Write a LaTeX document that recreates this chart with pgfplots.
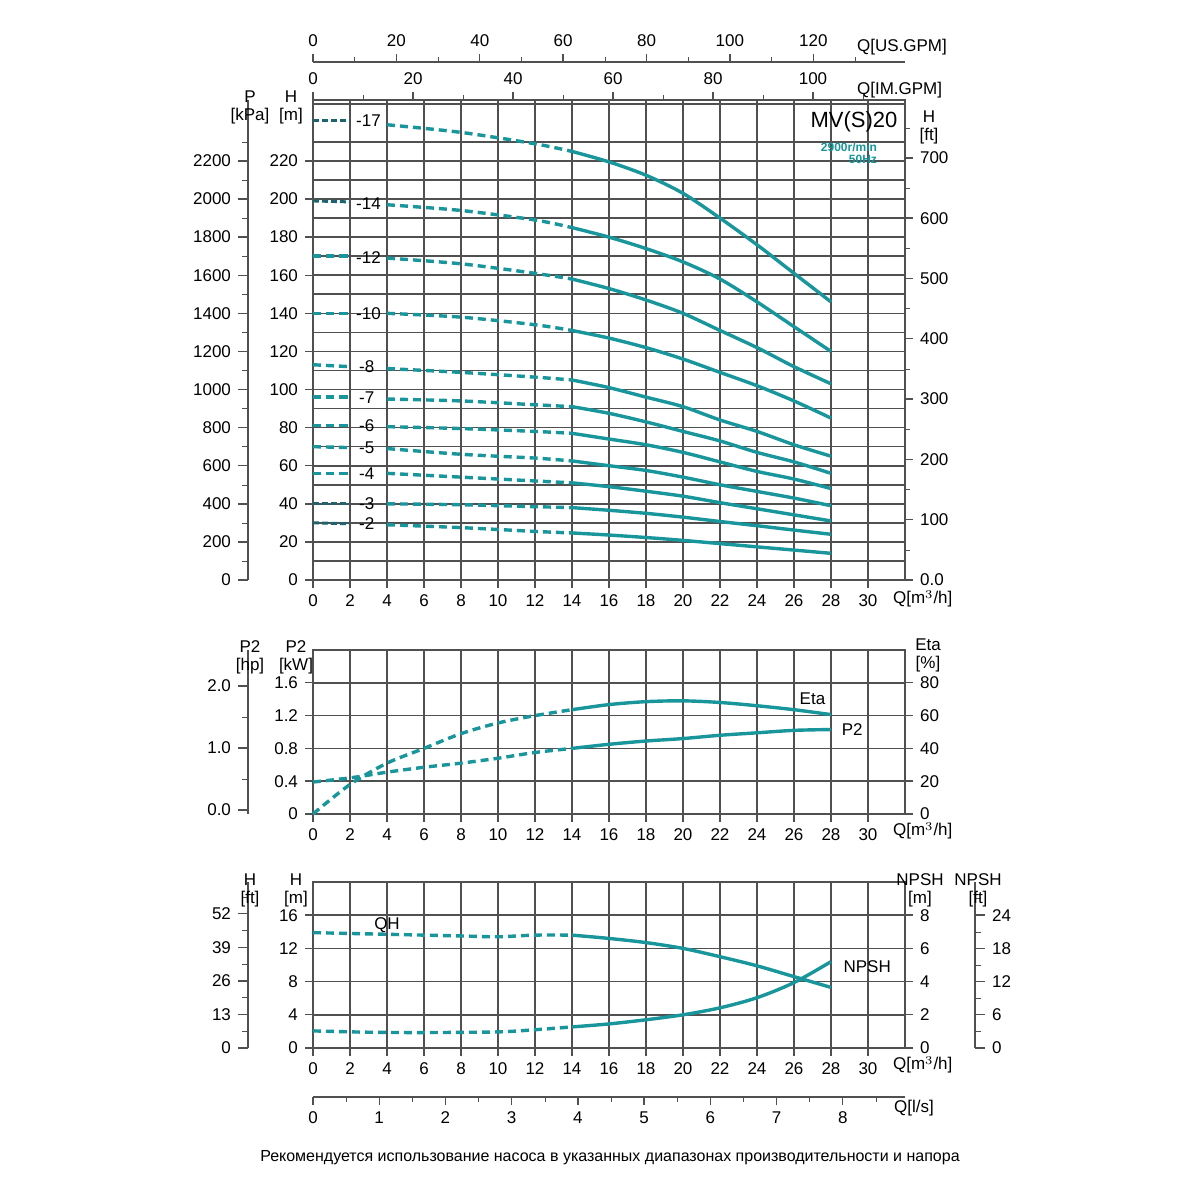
\documentclass[border=0pt]{standalone}
\usepackage{pgfplots}
\pgfplotsset{compat=1.18}
\usepackage{fontspec}
\setmainfont{Liberation Sans}
\definecolor{tl}{RGB}{24,150,155}
\definecolor{td}{RGB}{30,100,110}
\definecolor{gr}{RGB}{80,80,80}
\tikzset{cur/.style={tl, line width=1.7pt, smooth, no markers},
 dsh/.style={cur, dash pattern=on 4pt off 2.5pt},
 dk/.style={td, line width=1.5pt, no markers, dash pattern=on 3pt off 1.5pt}}
\pgfplotsset{
 every axis/.append style={/pgf/number format/1000 sep={}},
 base/.style={scale only axis, width=296pt, xmin=0, xmax=32,
  /pgf/number format/assume math mode=true, tick label style={font=\fontsize{8.5}{10}\selectfont},
  axis line style={gr, line width=0.8pt}, major tick style={gr, line width=0.7pt}, minor tick style={gr},
  tick align=outside, major tick length=4pt, minor tick length=2.5pt,
  grid style={gr, line width=0.8pt}, minor grid style={gr, line width=0.8pt}, clip=false},
 over/.style={base, hide x axis, axis y line*=right, y axis line style={gr}, grid=none},
 lefty/.style={scale only axis, width=10pt, xmin=0, xmax=1, hide x axis, axis y line*=left, /pgf/number format/assume math mode=true,
  tick label style={font=\fontsize{8.5}{10}\selectfont}, axis line style={gr, line width=0.8pt},
  major tick style={gr, line width=0.7pt}, minor tick style={gr}, tick align=outside, major tick length=5pt, minor tick length=3pt},
 topx/.style={scale only axis, width=296pt, height=10pt, ymin=0, ymax=1, hide y axis, axis x line*=top, /pgf/number format/assume math mode=true,
  tick label style={font=\fontsize{8.5}{10}\selectfont}, axis line style={gr, line width=0.8pt},
  major tick style={gr, line width=0.7pt}, minor tick style={gr}, tick align=outside, major tick length=4pt, minor tick length=2.5pt}
}
\begin{document}
\begin{tikzpicture}
\path[fill=white] (0pt,0pt) rectangle (600pt,600pt);
\def\fs{\fontsize{8.5}{10}\selectfont}
% ===== TOP PANEL =====
\begin{axis}[base, at={(156.5pt,310pt)}, anchor=south west, height=240pt, ymin=0, ymax=252,
 xtick={0,2,...,30}, ytick={0,20,...,220}, tick pos=left, grid=major,
 extra y ticks={10,30,...,250}, extra y tick labels={}, extra y tick style={grid=major, major tick length=0pt},
 extra x ticks={32}, extra x tick labels={}, extra x tick style={grid=major, major tick length=0pt}]
\addplot[dk] coordinates {(0,241)(2,241)};
\addplot[dsh] coordinates {(4,239)(8,235)(12,229)(14,225)};
\addplot[cur] coordinates {(14,225)(16,219.5)(18,212.5)(20,203)(22,190)(24,176)(26,161)(28,146)};
\node[font=\fs] at (axis cs:3,241) {-17};
\addplot[dk] coordinates {(0,199)(2,198.5)};
\addplot[dsh] coordinates {(4,197)(8,194)(12,189)(14,185)};
\addplot[cur] coordinates {(14,185)(16,180)(18,174)(20,167)(22,158)(24,146)(26,133)(28,120)};
\node[font=\fs] at (axis cs:3,197.5) {-14};
\addplot[dsh] coordinates {(0,170)(2,170)};
\addplot[dsh] coordinates {(4,169)(8,166)(12,161)(14,158)};
\addplot[cur] coordinates {(14,158)(16,153)(18,147)(20,140)(22,131)(24,122)(26,112)(28,103)};
\node[font=\fs] at (axis cs:3,169.5) {-12};
\addplot[dsh] coordinates {(0,140)(2,140)};
\addplot[dsh] coordinates {(4,140)(8,138)(12,134)(14,131)};
\addplot[cur] coordinates {(14,131)(16,127)(18,122)(20,116)(22,109)(24,102)(26,94)(28,85)};
\node[font=\fs] at (axis cs:3,140) {-10};
\addplot[dsh] coordinates {(0,113)(2,112)};
\addplot[dsh] coordinates {(4,111)(8,109)(12,106.5)(14,105)};
\addplot[cur] coordinates {(14,105)(16,101)(18,96)(20,91)(22,84)(24,78)(26,71)(28,65)};
\node[font=\fs] at (axis cs:2.9,112) {-8};
\addplot[dsh] coordinates {(0,96)(2,96)};
\addplot[dsh] coordinates {(4,95)(8,94)(12,92)(14,91)};
\addplot[cur] coordinates {(14,91)(16,87.5)(18,83)(20,78)(22,73)(24,67)(26,62)(28,56)};
\node[font=\fs] at (axis cs:2.9,95.5) {-7};
\addplot[dsh] coordinates {(0,81)(2,81)};
\addplot[dsh] coordinates {(4,80.5)(8,79.5)(12,78)(14,77)};
\addplot[cur] coordinates {(14,77)(16,74)(18,71)(20,67)(22,62)(24,57)(26,53)(28,48)};
\node[font=\fs] at (axis cs:2.9,81) {-6};
\addplot[dsh] coordinates {(0,70)(2,69.5)};
\addplot[dsh] coordinates {(4,69)(8,66)(12,64)(14,62.5)};
\addplot[cur] coordinates {(14,62.5)(16,60)(18,57.5)(20,54)(22,50)(24,46.5)(26,43)(28,39)};
\node[font=\fs] at (axis cs:2.9,69.5) {-5};
\addplot[dsh] coordinates {(0,56)(2,56)};
\addplot[dsh] coordinates {(4,56)(8,54)(12,52)(14,51)};
\addplot[cur] coordinates {(14,51)(16,49)(18,46.6)(20,44)(22,40.6)(24,37.4)(26,34.2)(28,31)};
\node[font=\fs] at (axis cs:2.9,56) {-4};
\addplot[dk] coordinates {(0,40)(2,40)};
\addplot[dsh] coordinates {(4,40)(8,39.5)(12,38.5)(14,38)};
\addplot[cur] coordinates {(14,38)(16,36.6)(18,35)(20,33)(22,30.7)(24,28.5)(26,26.2)(28,24)};
\node[font=\fs] at (axis cs:2.9,40) {-3};
\addplot[dk] coordinates {(0,30)(2,29.5)};
\addplot[dsh] coordinates {(4,29)(8,27.5)(12,25.5)(14,24.7)};
\addplot[cur] coordinates {(14,24.7)(16,23.6)(18,22.3)(20,20.8)(22,19.1)(24,17.4)(26,15.7)(28,14)};
\node[font=\fs] at (axis cs:2.9,29.5) {-2};
\end{axis}
\begin{axis}[over, at={(156.5pt,310pt)}, anchor=south west, height=240pt, ymin=0, ymax=796,
 ytick={0,100,...,700}, yticklabels={0.0,100,200,300,400,500,600,700}, minor ytick={50,150,...,750}]
\end{axis}
\begin{axis}[lefty, at={(134pt,310pt)}, anchor=south east, height=240pt, ymin=0, ymax=2520,
 ytick={0,200,...,2200}, minor ytick={100,300,...,2300}]
\end{axis}
\begin{axis}[topx, at={(156.5pt,550pt)}, anchor=north west, xmin=0, xmax=118.4, xtick={0,20,...,100}, minor xtick={10,30,...,110}]
\end{axis}
\begin{axis}[topx, at={(156.5pt,569pt)}, anchor=north west, xmin=0, xmax=142, xtick={0,20,...,120}, minor xtick={10,30,...,130}]
\end{axis}
\node[font=\fs, align=center] at (125pt,546.5pt) {P\\[-1pt][kPa]};
\node[font=\fs, align=center] at (145.5pt,546.5pt) {H\\[-1pt][m]};
\node[font=\fs, align=center] at (464.5pt,536.5pt) {H\\[-1pt][ft]};
\node[font=\fs, anchor=west] at (425pt,555pt) {Q[IM.GPM]};
\node[font=\fs, anchor=west] at (425pt,576.5pt) {Q[US.GPM]};
\node[font=\fs, anchor=west] at (443pt,300.5pt) {Q[m$^3$/h]};
\node[font=\fontsize{11}{13}\selectfont] at (427pt,539pt) {MV(S)20};
\node[font=\fontsize{6}{7}\selectfont\bfseries, text=tl, align=right, anchor=north east] at (442pt,532pt) {2900r/min\\[-1pt]50Hz};
% ===== MIDDLE PANEL =====
\begin{axis}[base, at={(156.5pt,193pt)}, anchor=south west, height=82pt, ymin=0, ymax=2.0,
 xtick={0,2,...,30}, ytick={0,0.4,...,1.6}, yticklabels={0,0.4,0.8,1.2,1.6}, tick pos=left, grid=major,
 extra x ticks={32}, extra x tick labels={}, extra x tick style={grid=major, major tick length=0pt}]
\addplot[dsh] coordinates {(0,0.39)(2,0.44)(4,0.51)(6,0.57)(8,0.62)(10,0.68)(12,0.75)(14,0.80)};
\addplot[cur] coordinates {(14,0.80)(16,0.85)(18,0.89)(20,0.92)(22,0.96)(24,0.99)(26,1.02)(28,1.03)};
\node[font=\fs, anchor=west] at (axis cs:28.2,1.03) {P2};
\end{axis}
\begin{axis}[over, at={(156.5pt,193pt)}, anchor=south west, height=82pt, ymin=0, ymax=100, ytick={0,20,...,80}]
\addplot[dsh] coordinates {(0,0)(2,18)(4,31)(6,40)(8,49)(10,55.5)(12,60)(14,63.6)};
\addplot[cur] coordinates {(14,63.6)(16,66.7)(18,68.5)(20,69)(22,68)(24,66)(26,63.6)(28,60.6)};
\node[font=\fs] at (axis cs:27,70) {Eta};
\end{axis}
\begin{axis}[lefty, at={(134pt,193pt)}, anchor=south east, height=82pt, ymin=-0.065, ymax=2.58,
 ytick={0,1,2}, yticklabels={0.0,1.0,2.0}, minor ytick={0.5,1.5}]
\end{axis}
\node[font=\fs, align=center] at (125pt,271.5pt) {P2\\[-1pt][hp]};
\node[font=\fs, align=center] at (148pt,271.5pt) {P2\\[-1pt][kW]};
\node[font=\fs, align=center] at (464pt,272.5pt) {Eta\\[-1pt][\%]};
\node[font=\fs, anchor=west] at (443pt,184.5pt) {Q[m$^3$/h]};
% ===== BOTTOM PANEL =====
\begin{axis}[base, at={(156.5pt,76pt)}, anchor=south west, height=83pt, ymin=0, ymax=20,
 xtick={0,2,...,30}, ytick={0,4,...,16}, tick pos=left, grid=major,
 extra x ticks={32}, extra x tick labels={}, extra x tick style={grid=major, major tick length=0pt}]
\addplot[dsh] coordinates {(0,13.9)(4,13.7)(8,13.5)(10,13.4)(12,13.6)(14,13.6)};
\addplot[cur] coordinates {(14,13.6)(16,13.2)(18,12.7)(20,12.0)(22,11.0)(24,9.9)(26,8.6)(28,7.3)};
\node[font=\fs] at (axis cs:4,14.8) {QH};
\end{axis}
\begin{axis}[over, at={(156.5pt,76pt)}, anchor=south west, height=83pt, ymin=0, ymax=10, ytick={0,2,...,8}]
\addplot[dsh] coordinates {(0,1.03)(3,0.95)(6,0.93)(10,0.97)(12,1.1)(14,1.27)};
\addplot[cur] coordinates {(14,1.27)(16,1.45)(18,1.7)(20,2.0)(22,2.42)(24,3.03)(26,3.94)(28,5.2)};
\node[font=\fs, anchor=west] at (axis cs:28.3,4.9) {NPSH};
\end{axis}
\begin{axis}[lefty, at={(134pt,76pt)}, anchor=south east, height=83pt, ymin=0, ymax=64.3,
 ytick={0,13,...,52}, minor ytick={6.5,19.5,...,58.5}]
\end{axis}
\begin{axis}[lefty, axis y line*=right, at={(477.5pt,76pt)}, anchor=south west, height=83pt, ymin=0, ymax=30,
 ytick={0,6,...,24}, minor ytick={3,9,...,27}]
\end{axis}
\node[font=\fs, align=center] at (125pt,155pt) {H\\[-1pt][ft]};
\node[font=\fs, align=center] at (148pt,155pt) {H\\[-1pt][m]};
\node[font=\fs, align=center] at (460pt,155pt) {NPSH\\[-1pt][m]};
\node[font=\fs, align=center] at (489pt,155pt) {NPSH\\[-1pt][ft]};
\node[font=\fs, anchor=west] at (443pt,67.5pt) {Q[m$^3$/h]};
\begin{axis}[topx, axis x line*=bottom, at={(156.5pt,51.5pt)}, anchor=south west, xmin=0, xmax=8.94, xtick={0,1,...,8}, minor xtick={0.5,1.5,...,8.5}]
\end{axis}
\node[font=\fs, anchor=west] at (443.5pt,46pt) {Q[l/s]};
\node[font=\fontsize{8}{10}\selectfont] at (305pt,21pt) {Рекомендуется использование насоса в указанных диапазонах производительности и напора};
\end{tikzpicture}
\end{document}
